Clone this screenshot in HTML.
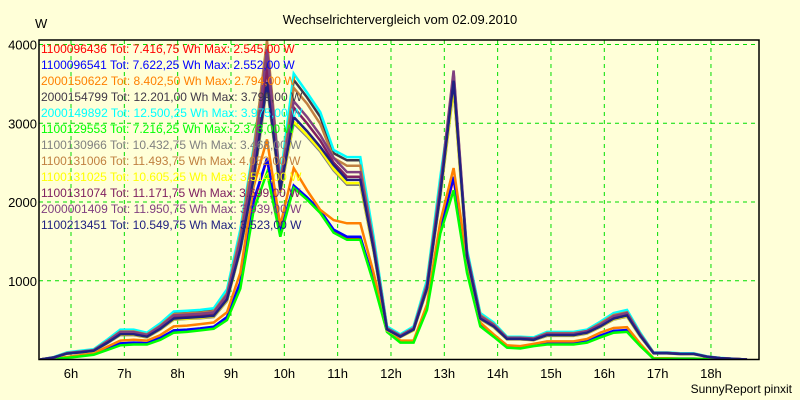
<!DOCTYPE html>
<html><head><meta charset="utf-8"><style>
html,body{margin:0;padding:0;background:#ffffd8;}
svg{display:block;font-family:"Liberation Sans",sans-serif;}
</style></head><body>
<svg id="chart" width="800" height="400">
<rect x="0" y="0" width="800" height="400" fill="#ffffd8"/>
<text x="400" y="24" text-anchor="middle" font-size="13" fill="#000">Wechselrichtervergleich vom 02.09.2010</text>
<text x="35" y="28" font-size="13" fill="#000">W</text>
<text x="792" y="393" text-anchor="end" font-size="12" fill="#000">SunnyReport pinxit</text>
<g id="grid"></g><g id="series"></g><g id="axes"></g><g id="legend"></g>
</svg>
<script>
const startHour = 5.5;
const stepHours = 0.25;
const hourTicks = [6,7,8,9,10,11,12,13,14,15,16,17,18];
const yTicks = [1000,2000,3000,4000];
const seriesNames = ["1100096436","1100096541","2000150622","2000154799","2000149892","1100129553","1100130966","1100131006","1100131025","1100131074","2000001409","1100213451"];
const seriesColors = ["#ff0000","#0000ff","#ff8000","#403848","#00ffff","#00ff00","#808080","#c08040","#ffff00","#802060","#804080","#202080"];
const legendText = [
"1100096436 Tot: 7.416,75 Wh Max: 2.545,00 W",
"1100096541 Tot: 7.622,25 Wh Max: 2.552,00 W",
"2000150622 Tot: 8.402,50 Wh Max: 2.794,00 W",
"2000154799 Tot: 12.201,00 Wh Max: 3.799,00 W",
"2000149892 Tot: 12.500,25 Wh Max: 3.975,00 W",
"1100129553 Tot: 7.216,25 Wh Max: 2.373,00 W",
"1100130966 Tot: 10.432,75 Wh Max: 3.468,00 W",
"1100131006 Tot: 11.493,75 Wh Max: 4.052,00 W",
"1100131025 Tot: 10.605,25 Wh Max: 3.514,00 W",
"1100131074 Tot: 11.171,75 Wh Max: 3.699,00 W",
"2000001409 Tot: 11.950,75 Wh Max: 3.939,00 W",
"1100213451 Tot: 10.549,75 Wh Max: 3.523,00 W"];
const s1100096436 = [0,12,25,45,70,135,200,210,205,270,365,375,390,410,530,960,2000,2545,1600,2200,2050,1880,1640,1550,1550,1000,360,225,225,660,1650,2300,1150,440,300,160,150,180,200,200,200,225,300,360,370,180,10,10,10,10,5,0,0,0];
const s1100096541 = [0,12,26,46,72,138,205,215,208,275,370,380,395,415,540,980,2020,2552,1610,2210,2060,1890,1650,1560,1560,1010,365,230,230,670,1660,2320,1160,445,305,165,155,185,205,205,205,230,305,365,375,185,12,12,12,12,6,0,0,0];
const s2000150622 = [0,15,30,55,80,160,240,250,240,310,420,430,450,470,600,1100,2200,2794,1700,2430,2150,1900,1770,1730,1730,1100,380,240,240,700,1750,2430,1250,470,320,180,170,200,230,230,230,260,340,400,410,200,15,15,12,12,6,0,0,0];
const s2000154799 = [0,28,85,105,125,240,365,365,330,445,590,600,610,630,860,1600,2620,3799,2250,3550,3330,3080,2620,2530,2530,1520,410,310,410,980,2260,3450,1370,575,460,285,285,275,340,340,340,370,470,575,615,330,85,85,75,75,38,18,8,0];
const s2000149892 = [0,30,90,110,130,250,380,380,340,460,610,620,630,650,890,1650,2700,3975,2300,3630,3390,3140,2660,2570,2570,1560,420,320,420,1010,2320,3500,1400,590,470,290,290,280,350,350,350,380,480,590,630,340,90,90,80,80,40,20,10,0];
const s1100129553 = [0,10,20,40,60,120,180,190,190,250,340,350,370,390,500,900,1900,2373,1560,2180,2030,1860,1610,1520,1520,970,350,215,215,630,1600,2150,1100,420,290,150,140,170,190,190,190,215,280,340,350,170,10,10,10,10,5,0,0,0];
const s1100130966 = [0,24,72,88,105,205,310,310,280,380,505,515,525,540,740,1380,2250,3468,2120,3000,2830,2640,2400,2220,2220,1370,370,285,370,880,2060,3430,1280,510,410,255,255,245,300,300,300,330,410,505,545,290,78,78,68,68,34,17,8,0];
const s1100131006 = [0,27,82,100,120,232,355,355,320,432,575,585,595,612,840,1580,2650,4052,2240,3450,3250,2990,2560,2460,2460,1480,400,305,400,960,2230,3480,1340,565,450,278,278,268,335,335,335,362,460,565,600,322,84,84,74,74,37,18,8,0];
const s1100131025 = [0,24,73,89,107,208,315,315,285,385,510,520,530,548,750,1390,2270,3514,2130,3020,2850,2660,2420,2240,2240,1380,372,287,372,890,2080,3450,1290,515,415,258,258,248,305,305,305,335,415,510,550,295,79,79,69,69,35,17,8,0];
const s1100131074 = [0,25,77,94,112,218,332,332,298,402,535,545,555,572,780,1450,2350,3699,2180,3200,3000,2780,2500,2320,2320,1430,385,297,385,920,2150,3640,1330,535,430,268,268,258,318,318,318,350,432,535,575,310,82,82,72,72,36,18,8,0];
const s2000001409 = [0,26,80,98,118,228,348,348,312,422,560,570,580,598,820,1520,2500,3939,2230,3280,3080,2850,2560,2380,2380,1470,395,303,395,945,2200,3670,1360,550,440,275,275,265,328,328,328,360,445,550,590,318,84,84,74,74,37,18,8,0];
const s1100213451 = [0,25,75,90,110,210,320,320,290,390,520,530,540,555,760,1400,2300,3523,2150,3080,2900,2700,2470,2280,2280,1400,380,290,380,900,2100,3540,1300,520,420,260,260,250,310,310,310,340,420,520,560,300,80,80,70,70,35,18,8,0];
const allSeries = [s1100096436,s1100096541,s2000150622,s2000154799,s2000149892,s1100129553,s1100130966,s1100131006,s1100131025,s1100131074,s2000001409,s1100213451];

const NS = "http://www.w3.org/2000/svg";
const plotL = 39, plotR = 759, plotT = 40, plotB = 359.5;
function xScale(h){ return 71 + (h - 6) * 53.33; }
function xData(h){ return xScale(h) - 4; }
function yScale(v){ return 359.5 - v * 0.07875; }
function mk(tag, attrs, parent){ const e = document.createElementNS(NS, tag); for (const k in attrs) e.setAttribute(k, attrs[k]); parent.appendChild(e); return e; }

const grid = document.getElementById('grid');
const series = document.getElementById('series');
const axes = document.getElementById('axes');
const legend = document.getElementById('legend');

const clip = mk('clipPath', {id:'plotclip'}, document.getElementById('chart'));
mk('rect', {x:plotL, y:plotT, width:plotR-plotL, height:plotB-plotT}, clip);

hourTicks.forEach(h => {
  const x = xScale(h);
  const l = mk('line', {x1:x, x2:x, y1:plotT, y2:plotB, stroke:'#00dd00', 'stroke-dasharray':'4,4', 'stroke-width':1}, grid);
  
  
  const t = mk('text', {x:x, y:378, 'text-anchor':'middle', 'font-size':13, fill:'#000'}, axes);
  t.textContent = h + 'h';
  
  
});
yTicks.forEach(v => {
  const y = yScale(v);
  const l = mk('line', {x1:plotL, x2:plotR, y1:y, y2:y, stroke:'#00dd00', 'stroke-dasharray':'4,4', 'stroke-width':1}, grid);
  
  
  const t = mk('text', {x:37, y:y+5, 'text-anchor':'end', 'font-size':13, fill:'#000'}, axes);
  t.textContent = v;
  
  
});
const frame = mk('path', {d:`M${plotL},${plotT}H${plotR}V${plotB}H${plotL}Z`, fill:'none', stroke:'#000', 'stroke-width':1.5}, axes);



allSeries.forEach((arr, i) => {
  const pts = arr.map((v, j) => xData(startHour + j * stepHours).toFixed(1) + ',' + yScale(v).toFixed(1)).join(' ');
  const p = mk('polyline', {points:pts, fill:'none', stroke:seriesColors[i], 'stroke-width':2.5, 'stroke-linejoin':'miter', 'clip-path':'url(#plotclip)'}, series);
  
  
});

legendText.forEach((txt, i) => {
  const t = mk('text', {x:41, y:53 + i * 16, 'font-size':12, fill:seriesColors[i]}, legend);
  t.textContent = txt;
  
  
});
</script>
</body></html>
